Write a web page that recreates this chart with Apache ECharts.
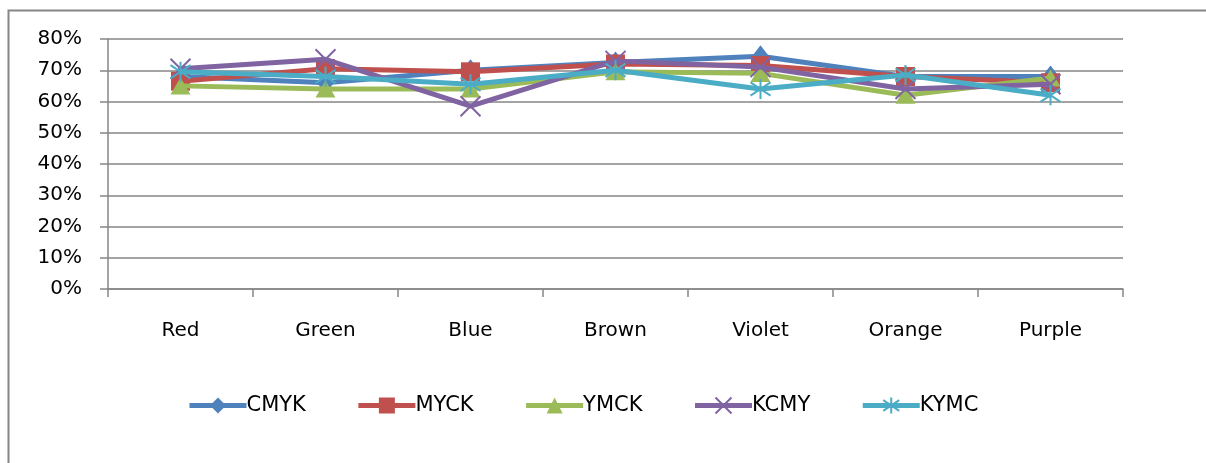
<!DOCTYPE html>
<html>
<head>
<meta charset="utf-8">
<script src="https://cdn.jsdelivr.net/npm/echarts@6/dist/echarts.min.js"></script>
<style>
  html, body { margin: 0; padding: 0; background: #fff; }
  #chart { width: 1206px; height: 463px; }
</style>
</head>
<body>
<div id="chart"></div>
<script>
// Colour categories on the x axis
const categories = ['Red', 'Green', 'Blue', 'Brown', 'Violet', 'Orange', 'Purple'];

// Percentages per ink order
const cmyk = [68, 66, 70, 72.5, 74.5, 68, 68];
const myck = [66.5, 70.5, 69.5, 72, 71.5, 68, 66];
const ymck = [65, 64, 64, 69.5, 69, 62, 67.5];
const kcmy = [70.5, 73.5, 58.5, 73, 71, 64, 65.5];
const kymc = [69.5, 68, 65.5, 70, 64, 68.5, 62];

const seriesNames = ['CMYK', 'MYCK', 'YMCK', 'KCMY', 'KYMC'];
const yTicks = [0, 10, 20, 30, 40, 50, 60, 70, 80];

const colors = ['#4F81BD', '#C0504D', '#9BBB59', '#8064A2', '#4BACC6'];
const axisGray = '#868686';
const font = 'DejaVu Sans';

const crossPath = 'path://M0,0L10,10M10,0L0,10';
const starPath = 'path://M0,1L10,9M10,1L0,9M5,-1L5,11';

const markers = [
  { symbol: 'diamond', size: [17, 22], border: 0 },
  { symbol: 'rect', size: [19, 19], border: 0 },
  { symbol: 'triangle', size: [20, 17], border: 0 },
  { symbol: crossPath, size: [20, 20], border: 2 },
  { symbol: starPath, size: [20, 20], border: 2 }
];

const values = [cmyk, myck, ymck, kcmy, kymc];

const chart = echarts.init(document.getElementById('chart'), null, { renderer: 'canvas' });

chart.setOption({
  animation: false,
  color: colors,
  graphic: [{
    type: 'rect',
    position: [8.5, 10.5],
    shape: { x: 0, y: 0, width: 1240, height: 500 },
    style: { fill: 'none', stroke: axisGray, lineWidth: 2 },
    silent: true,
    z: -1
  }],
  grid: { left: 108, right: 83, top: 39, bottom: 174, containLabel: false },
  legend: {
    left: 182, top: 390,
    itemWidth: 57, itemHeight: 20, itemGap: 50,
    lineStyle: { width: 5 },
    textStyle: { fontFamily: font, fontSize: 21, color: '#000', padding: [0, 0, 0, -5] },
    data: seriesNames
  },
  xAxis: {
    type: 'category',
    data: categories,
    boundaryGap: true,
    axisLine: { show: true, lineStyle: { color: axisGray, width: 1.5 } },
    axisTick: { show: true, length: 8, interval: 0, lineStyle: { color: axisGray, width: 1.5 } },
    axisLabel: { fontFamily: font, fontSize: 20, color: '#000', margin: 32, interval: 0 }
  },
  yAxis: {
    type: 'value',
    min: yTicks[0], max: yTicks[yTicks.length - 1], interval: 10,
    axisLine: { show: true, lineStyle: { color: axisGray, width: 1.5 } },
    axisTick: { show: true, length: 8, lineStyle: { color: axisGray, width: 1.5 } },
    splitLine: { show: true, lineStyle: { color: axisGray, width: 1.5 } },
    axisLabel: { fontFamily: font, fontSize: 20, color: '#000', margin: 26, formatter: '{value}%' }
  },
  series: seriesNames.map((name, i) => ({
    name: name,
    type: 'line',
    data: values[i],
    symbol: markers[i].symbol,
    symbolSize: markers[i].size,
    showAllSymbol: true,
    lineStyle: { width: 5, color: colors[i] },
    itemStyle: {
      color: colors[i],
      borderColor: colors[i],
      borderWidth: markers[i].border
    },
    z: 2 + i
  }))
});
</script>
</body>
</html>
